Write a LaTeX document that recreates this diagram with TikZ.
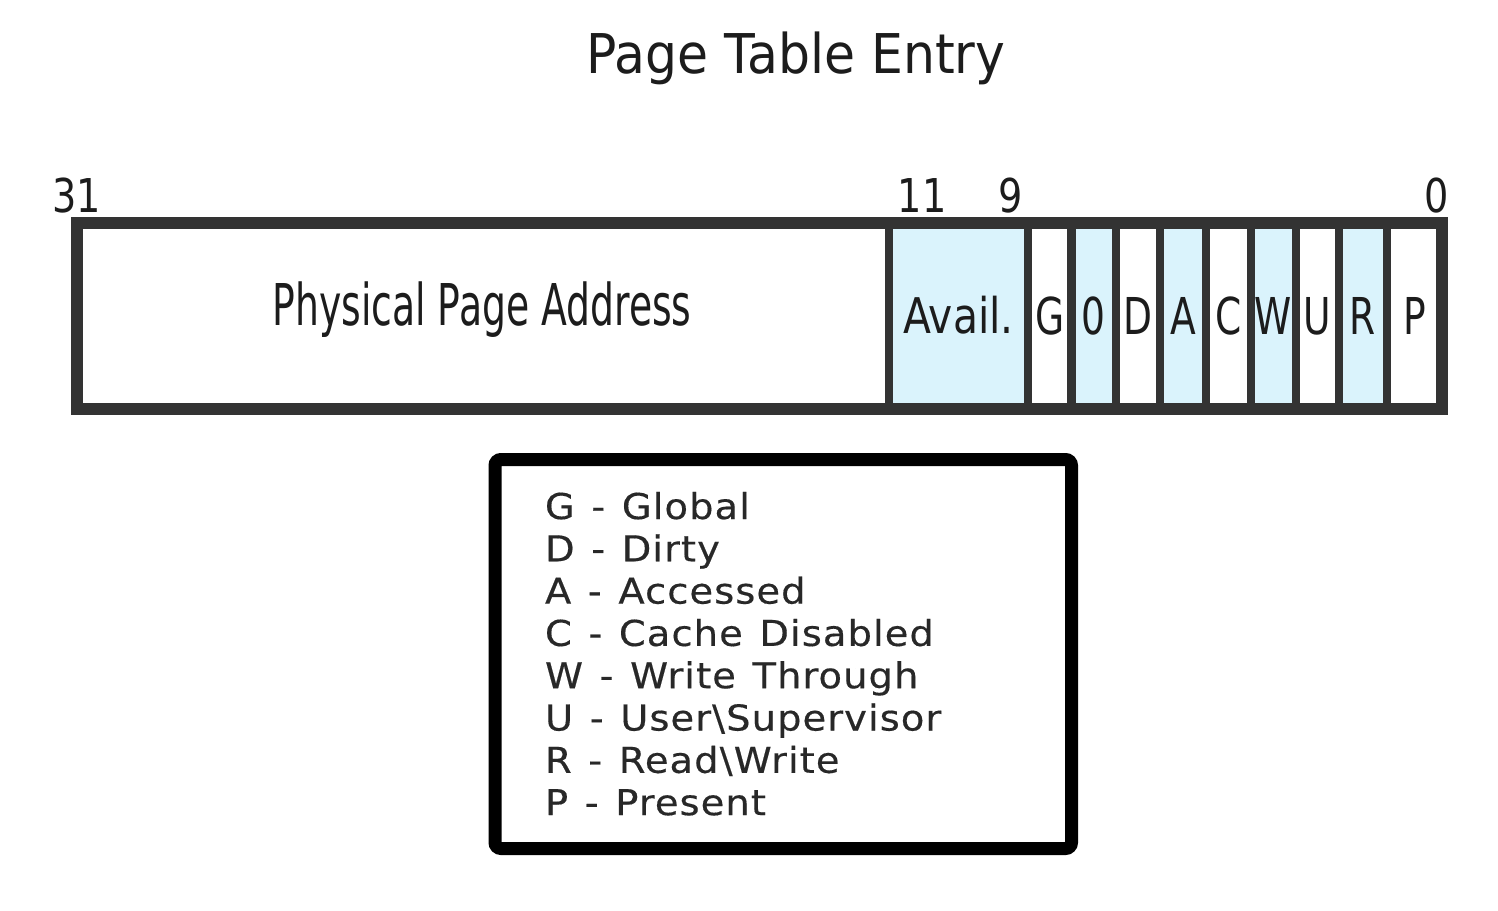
\documentclass[tikz,border=0pt]{standalone}
\usepackage{fontspec}
\setmainfont{DejaVu Sans}
\newfontfamily\titlefont[FakeStretch=0.92]{DejaVu Sans}
\newfontfamily\ppafont[FakeStretch=0.655]{DejaVu Sans}
\newfontfamily\cellfont[FakeStretch=0.74]{DejaVu Sans}
\newfontfamily\availfont[FakeStretch=0.83]{DejaVu Sans}
\newfontfamily\bitfont[FakeStretch=0.82]{DejaVu Sans}
\newfontfamily\legfont[LetterSpace=3,FakeStretch=1.08,WordSpace=1.25,FakeBold=0.4]{DejaVu Sans}
\definecolor{cellblue}{RGB}{218,243,252}
\definecolor{barline}{RGB}{51,51,51}
\definecolor{textc}{RGB}{28,28,28}
\begin{document}
\begin{tikzpicture}[x=0.5pt,y=-0.5pt,
  txt/.style={inner sep=0pt,outer sep=0pt,anchor=base,text=textc},
  titletxt/.style={txt,font=\titlefont\fontsize{27.4}{30}\selectfont},
  ppatxt/.style={txt,font=\ppafont\fontsize{28.8}{31}\selectfont},
  celltxt/.style={txt,font=\cellfont\fontsize{25.4}{28}\selectfont},
  availtxt/.style={txt,font=\availfont\fontsize{24.6}{27}\selectfont},
  bittxt/.style={txt,font=\bitfont\fontsize{23.3}{26}\selectfont},
  legtxt/.style={txt,anchor=base west,text={rgb,255:red,40;green,40;blue,40},font=\legfont\fontsize{17.8}{20}\selectfont},
  divider/.style={draw=barline,line width=4.25pt},
  barframe/.style={draw=barline,line width=6pt,line join=miter},
  legendframe/.style={draw=black,line width=6.5pt,rounded corners=3pt}]
\useasboundingbox (0,0) rectangle (1498,910);
\fill[white] (0,0) rectangle (1498,910);

% title
\node[titletxt] (title) at (796,73) {Page Table Entry};

% bar fills
\foreach \a/\b in {889/1028,1071.5/1116,1160/1206,1251/1296,1339/1387}
  \fill[cellblue] (\a,222.5) rectangle (\b,408.5);
% dividers
\foreach \x in {889,1028,1071.5,1116,1160,1206,1251,1296,1339,1387}
  \draw[divider] (\x,222.5) -- (\x,408.5);
% frame
\draw[barframe] (76.5,222.5) rectangle (1441.5,408.5);

% field labels
\node[ppatxt] (ppa) at (482,325) {Physical Page Address};
\node[availtxt] (avail) at (958.5,333) {Avail.};
\node[celltxt] (cG) at (1049.75,334) {G};
\node[celltxt] (c0) at (1093.75,334) {0};
\node[celltxt] (cD) at (1138,334) {D};
\node[celltxt] (cA) at (1183,334) {A};
\node[celltxt] (cC) at (1228.5,334) {C};
\node[celltxt] (cW) at (1273.5,334) {W};
\node[celltxt] (cU) at (1317.5,334) {U};
\node[celltxt] (cR) at (1363,334) {R};
\node[celltxt] (cP) at (1415,334) {P};

% bit numbers
\node[bittxt] (b31) at (77,212) {31};
\node[bittxt] (b11) at (922,212) {11};
\node[bittxt] (b9) at (1011,212) {9};
\node[bittxt] (b0) at (1437,212) {0};

% legend
\draw[legendframe] (495,459.5) rectangle (1071.5,848.5);
\foreach \t [count=\i] in {G - Global, D - Dirty, A - Accessed, C - Cache Disabled, W - Write Through, U - User\textbackslash Supervisor, R - Read\textbackslash Write, P - Present}
  \node[legtxt] (leg\i) at (545,{519+(\i-1)*42.3}) {\t};
\end{tikzpicture}
\end{document}
